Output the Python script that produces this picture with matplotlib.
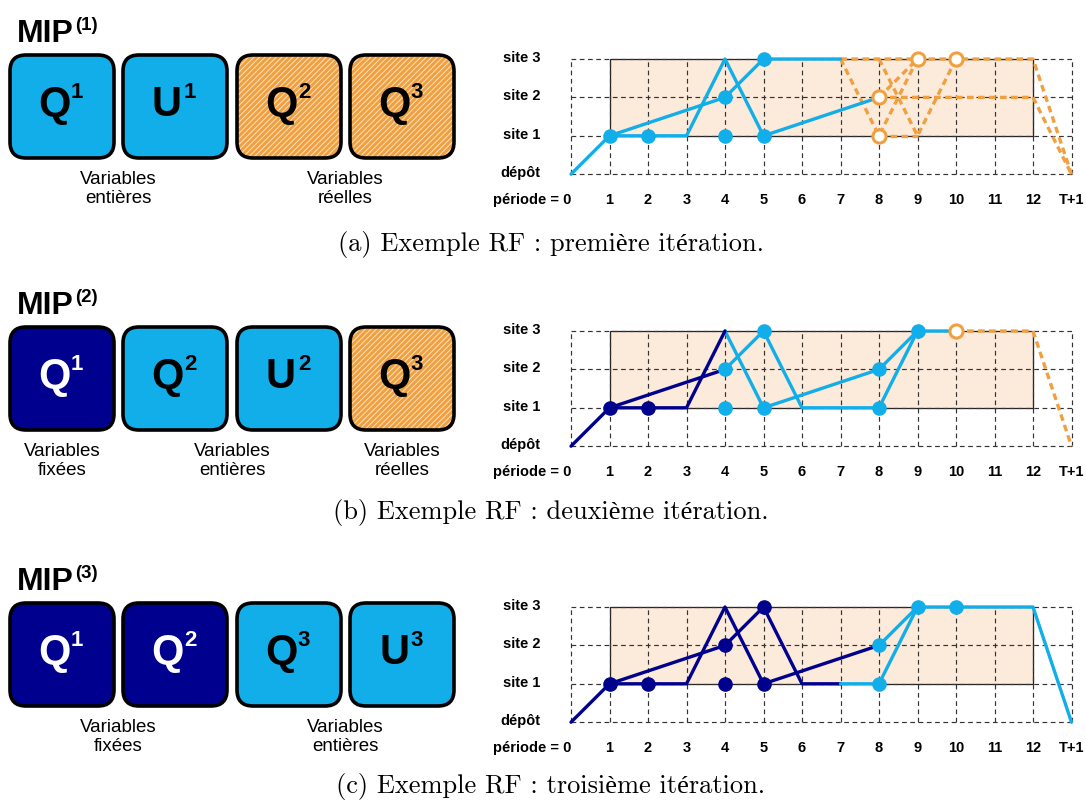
import matplotlib
matplotlib.use("Agg")
import matplotlib.pyplot as plt
from matplotlib.patches import FancyBboxPatch, Rectangle

# ---- data ----
periodLabels = ["période = 0", "1", "2", "3", "4", "5", "6", "7", "8", "9", "10", "11", "12", "T+1"]
siteLabels = ["dépôt", "site 1", "site 2", "site 3"]

mipTitles = ["MIP", "MIP", "MIP"]
mipIndex = ["(1)", "(2)", "(3)"]
boxLetters = [["Q", "U", "Q", "Q"], ["Q", "Q", "U", "Q"], ["Q", "Q", "Q", "U"]]
boxIndex = [["1", "1", "2", "3"], ["1", "2", "2", "3"], ["1", "2", "3", "3"]]
boxKinds = [["int", "int", "real", "real"], ["fix", "int", "int", "real"], ["fix", "fix", "int", "int"]]
# (text, first box, last box)
groupLabels = [
    [("Variables\nentières", 0, 1), ("Variables\nréelles", 2, 3)],
    [("Variables\nfixées", 0, 0), ("Variables\nentières", 1, 2), ("Variables\nréelles", 3, 3)],
    [("Variables\nfixées", 0, 1), ("Variables\nentières", 2, 3)],
]
captions = ["(a) Exemple RF : première itération.",
            "(b) Exemple RF : deuxième itération.",
            "(c) Exemple RF : troisième itération."]

# routes: (periods, sites)
aBlueRoutes = [([0, 1, 2, 3, 4, 5, 8], [0, 1, 1, 1, 3, 1, 2]), ([1, 4, 5, 7], [1, 2, 3, 3])]
aBluePts = ([1, 2, 4, 5, 4, 5], [1, 1, 1, 1, 2, 3])
aOrangeRoutes = [([7, 12, 13], [3, 3, 0]), ([7, 8, 9], [3, 1, 3]), ([8, 9, 10], [3, 1, 3]),
                 ([8, 9], [1, 1]), ([8, 9], [2, 3]), ([8, 12, 13], [2, 2, 0])]
aOrangePts = ([8, 8, 9, 10], [2, 1, 3, 3])

bNavyRoutes = [([0, 1, 2, 3, 4], [0, 1, 1, 1, 3]), ([1, 4], [1, 2])]
bNavyPts = ([1, 2], [1, 1])
bBlueRoutes = [([4, 5, 8, 9, 10], [3, 1, 2, 3, 3]), ([4, 5, 6, 8, 9], [2, 3, 1, 1, 3])]
bBluePts = ([4, 4, 5, 5, 8, 8, 9], [2, 1, 3, 1, 2, 1, 3])
bOrangeRoutes = [([10, 12, 13], [3, 3, 0])]
bOrangePts = ([10], [3])

cNavyRoutes = [([0, 1, 2, 3, 4, 5, 8], [0, 1, 1, 1, 3, 1, 2]), ([1, 4, 5, 6, 7], [1, 2, 3, 1, 1])]
cNavyPts = ([1, 2, 4, 4, 5, 5], [1, 1, 1, 2, 3, 1])
cBlueRoutes = [([7, 8, 9, 12, 13], [1, 1, 3, 3, 0]), ([8, 9], [2, 3])]
cBluePts = ([8, 8, 9, 10], [2, 1, 3, 3])

LIGHT = "#12AEEA"
NAVY = "#00008E"
ORANGE = "#F0A040"
PEACH = "#FCEADB"

W, H = 1086, 810
rowOffset = [0, 272, 548]
captionY = [244, 513, 786]

plt.rcParams["hatch.linewidth"] = 0.7
fig = plt.figure(figsize=(W / 100, H / 100), dpi=100)
bg = fig.add_axes([0, 0, 1, 1])
bg.set_xlim(0, W)
bg.set_ylim(H, 0)
bg.axis("off")

sans = "Liberation Sans"

# ---- left block: MIP boxes ----
boxLeft = [10, 123, 237, 350]
boxW, boxH = 104, 103
for r in range(3):
    top = 55 + rowOffset[r]
    bg.text(17, 42 + rowOffset[r], mipTitles[r], fontsize=23, fontweight="bold",
            family=sans, va="baseline", ha="left")
    bg.text(75, 30 + rowOffset[r], mipIndex[r], fontsize=13.5, fontweight="bold",
            family=sans, va="baseline", ha="left")
    for i in range(4):
        kind = boxKinds[r][i]
        x = boxLeft[i]
        if kind == "real":
            face = FancyBboxPatch((x, top), boxW, boxH, boxstyle="round,pad=0,rounding_size=16",
                                  facecolor=ORANGE, edgecolor="#FCE3C0", hatch="//////", lw=0)
        else:
            face = FancyBboxPatch((x, top), boxW, boxH, boxstyle="round,pad=0,rounding_size=16",
                                  facecolor=NAVY if kind == "fix" else LIGHT, lw=0)
        bg.add_patch(face)
        bg.add_patch(FancyBboxPatch((x, top), boxW, boxH, boxstyle="round,pad=0,rounding_size=16",
                                    facecolor="none", edgecolor="black", lw=2.6))
        tc = "white" if kind == "fix" else "black"
        cx = x + boxW / 2
        bg.text(cx - 8, top + 61, boxLetters[r][i], fontsize=30, fontweight="bold", family=sans,
                color=tc, ha="center", va="baseline")
        bg.text(cx + 15, top + 43, boxIndex[r][i], fontsize=16, fontweight="bold", family=sans,
                color=tc, ha="center", va="baseline")
    for txt, i0, i1 in groupLabels[r]:
        cx = (boxLeft[i0] + boxLeft[i1] + boxW) / 2
        bg.text(cx, 189 + rowOffset[r], txt, fontsize=13.5, family=sans, ha="center",
                va="center", linespacing=1.2)
    bg.text(551, captionY[r], captions[r], fontsize=19, family=["cmr10", "Liberation Serif"],
            ha="center", va="center")

# ---- right block: route charts ----
X0, DX, DY = 571, 38.5, 38.4
L, R = 480, 1086


def draw_chart(r, solid, dashed, filled, hollow):
    ytop = 59 + rowOffset[r]
    ydep = ytop + 3 * DY
    T, B = ytop - 25, ydep + 45
    ax = fig.add_axes([L / W, 1 - B / H, (R - L) / W, (B - T) / H])
    ax.set_xlim((L - X0) / DX, (R - X0) / DX)
    ax.set_ylim((ydep - B) / DY, (ydep - T) / DY)
    ax.axis("off")
    ax.add_patch(Rectangle((1, 1), 11, 2, facecolor=PEACH, edgecolor="#222222", lw=0.9, zorder=0))
    ax.hlines(range(4), 0, 13, colors="#333333", linestyles=(0, (4, 3)), lw=0.85, zorder=1)
    ax.vlines(range(14), 0, 3, colors="#333333", linestyles=(0, (4, 3)), lw=0.85, zorder=1)
    for k, lab in enumerate(siteLabels):
        ax.text(-0.8, k + 0.03, lab, fontsize=10.5, fontweight="bold", family=sans,
                ha="right", va="center")
    for k, lab in enumerate(periodLabels):
        if k == 0:
            ax.text(0.0, -0.67, lab, fontsize=10.5, fontweight="bold", family=sans,
                    ha="right", va="center")
        else:
            ax.text(k, -0.67, lab, fontsize=10.5, fontweight="bold", family=sans,
                    ha="center", va="center")
    for routes, col in dashed:
        for xs, ys in routes:
            ax.plot(xs, ys, color=col, lw=2.4, linestyle=(0, (2.0, 1.3)), zorder=3)
    for routes, col in solid:
        for xs, ys in routes:
            ax.plot(xs, ys, color=col, lw=2.4, solid_capstyle="round", zorder=4)
    for pts, col in filled:
        ax.plot(pts[0], pts[1], "o", color=col, ms=9.5, zorder=5, linestyle="none")
    for pts, col in hollow:
        ax.plot(pts[0], pts[1], "o", mfc="white", mec=col, mew=2.2, ms=9.5, zorder=5, linestyle="none")


draw_chart(0, [(aBlueRoutes, LIGHT)], [(aOrangeRoutes, ORANGE)],
           [(aBluePts, LIGHT)], [(aOrangePts, ORANGE)])
draw_chart(1, [(bBlueRoutes, LIGHT), (bNavyRoutes, NAVY)], [(bOrangeRoutes, ORANGE)],
           [(bBluePts, LIGHT), (bNavyPts, NAVY)], [(bOrangePts, ORANGE)])
draw_chart(2, [(cNavyRoutes, NAVY), (cBlueRoutes, LIGHT)], [],
           [(cNavyPts, NAVY), (cBluePts, LIGHT)], [])

fig.savefig("out.png", dpi=100)
